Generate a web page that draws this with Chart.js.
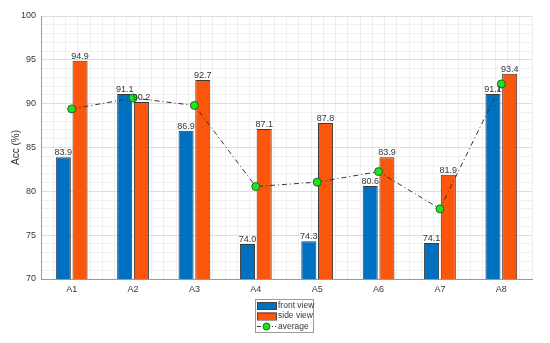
<!DOCTYPE html>
<html>
<head>
<meta charset="utf-8">
<script src="https://cdn.jsdelivr.net/npm/chart.js@4.4.1/dist/chart.umd.min.js"></script>
<style>
  html, body { margin: 0; padding: 0; background: #fff; }
  #wrap { width: 550px; height: 343px; }
</style>
</head>
<body>
<div id="wrap"><canvas id="myChart" width="550" height="343"></canvas></div>
<script>
// values
let labels = ["A1", "A2", "A3", "A4", "A5", "A6", "A7", "A8"];
let frontView = [83.9, 91.1, 86.9, 74.0, 74.3, 80.6, 74.1, 91.1];
let sideView = [94.9, 90.2, 92.7, 87.1, 87.8, 83.9, 81.9, 93.4];
let average = [89.4, 90.65, 89.8, 80.55, 81.05, 82.25, 78.0, 92.25];
let yTicks = [70, 75, 80, 85, 90, 95, 100];

let blue = "#0070C0";
let orange = "#FA560C";
let textColor = "#363636";
let font = "Liberation Sans, Arial, sans-serif";

function isWhole(v) { return Math.abs(v - Math.round(v)) < 1e-6; }

// numbers over the bars
const barLabels = {
  id: "barLabels",
  afterDatasetsDraw(chart) {
    const ctx = chart.ctx;
    ctx.save();
    ctx.font = "9px " + font;
    ctx.fillStyle = textColor;
    ctx.textAlign = "center";
    ctx.textBaseline = "bottom";
    chart.data.datasets.forEach((ds, i) => {
      if (ds.type !== "bar") return;
      chart.getDatasetMeta(i).data.forEach((el, j) => {
        ctx.fillText(ds.data[j].toFixed(1), el.x, el.y);
      });
    });
    ctx.restore();
  }
};

// boxed legend under the axis, like the matlab one
const boxLegend = {
  id: "boxLegend",
  afterDraw(chart) {
    const ctx = chart.ctx;
    const ds = chart.data.datasets;
    const x0 = 255, y0 = 299, w = 58, h = 33;
    ctx.save();
    ctx.fillStyle = "#fff";
    ctx.fillRect(x0, y0, w, h);
    ctx.strokeStyle = "#9a9a9a";
    ctx.lineWidth = 1;
    ctx.strokeRect(x0 + 0.5, y0 + 0.5, w, h);
    ctx.font = "8.5px " + font;
    ctx.textBaseline = "middle";
    ctx.textAlign = "left";
    let rows = [y0 + 6, y0 + 16.5, y0 + 27];
    [ds[1], ds[2]].forEach((d, k) => {
      ctx.fillStyle = d.backgroundColor;
      ctx.fillRect(x0 + 2, rows[k] - 3, 19, 7);
      ctx.strokeStyle = "#444";
      ctx.strokeRect(x0 + 2.5, rows[k] - 2.5, 19, 7);
      ctx.fillStyle = textColor;
      ctx.fillText(d.label, x0 + 23, rows[k] + 0.5);
    });
    let a = ds[0];
    ctx.strokeStyle = a.borderColor;
    ctx.setLineDash([4, 2, 1, 2]);
    ctx.beginPath();
    ctx.moveTo(x0 + 2, rows[2] + 0.5);
    ctx.lineTo(x0 + 21, rows[2] + 0.5);
    ctx.stroke();
    ctx.setLineDash([]);
    ctx.beginPath();
    ctx.arc(x0 + 11.5, rows[2] + 0.5, 3.5, 0, Math.PI * 2);
    ctx.fillStyle = a.pointBackgroundColor;
    ctx.fill();
    ctx.strokeStyle = a.pointBorderColor;
    ctx.stroke();
    ctx.fillStyle = textColor;
    ctx.fillText(a.label, x0 + 23, rows[2] + 0.5);
    ctx.restore();
  }
};

new Chart("myChart", {
  data: {
    labels: labels,
    datasets: [
      {
        type: "line",
        label: "average",
        data: average,
        borderColor: "#333",
        borderWidth: 1,
        borderDash: [5, 3, 1, 3],
        pointRadius: 4,
        pointBackgroundColor: "#22e022",
        pointBorderColor: "#1c6b1c",
        pointBorderWidth: 1,
        fill: false
      },
      {
        type: "bar",
        label: "front view",
        data: frontView,
        backgroundColor: blue,
        borderColor: "#3a3a3a",
        borderWidth: 1,
        categoryPercentage: 0.545,
        barPercentage: 0.9
      },
      {
        type: "bar",
        label: "side view",
        data: sideView,
        backgroundColor: orange,
        borderColor: "#3a3a3a",
        borderWidth: 1,
        categoryPercentage: 0.545,
        barPercentage: 0.9
      }
    ]
  },
  options: {
    responsive: false,
    animation: false,
    layout: { padding: { top: 16, right: 18, bottom: 44, left: 10 } },
    plugins: {
      legend: { display: false },
      tooltip: { enabled: false }
    },
    scales: {
      x: {
        type: "category",
        grid: { display: false, drawTicks: false },
        border: { display: true, color: "#9a9a9a", width: 1 },
        ticks: { color: textColor, font: { family: font, size: 9 }, padding: 5 },
        afterFit(scale) { scale.height = 20; }
      },
      xMinor: {
        type: "linear",
        position: "top",
        min: -0.5,
        max: 7.5,
        ticks: { display: false, stepSize: 0.2 },
        border: { display: false },
        grid: {
          drawTicks: false,
          color: (c) => isWhole(c.tick.value) ? "#dedede" : "#f0f0f0",
          lineWidth: 1
        },
        afterFit(scale) { scale.height = 0; }
      },
      y: {
        min: 70,
        max: 100,
        border: { display: true, color: "#9a9a9a", width: 1 },
        grid: {
          drawTicks: false,
          color: (c) => yTicks.includes(c.tick.value) ? "#dedede" : "#f0f0f0"
        },
        ticks: {
          stepSize: 1,
          autoSkip: false,
          padding: 5,
          color: textColor,
          font: { family: font, size: 9 },
          callback: (v) => yTicks.includes(v) ? v : ""
        },
        title: {
          display: true,
          text: "Acc (%)",
          color: textColor,
          font: { family: font, size: 10 },
          padding: 0
        },
        afterFit(scale) { scale.width = 31; }
      }
    }
  },
  plugins: [barLabels, boxLegend]
});
</script>
</body>
</html>
